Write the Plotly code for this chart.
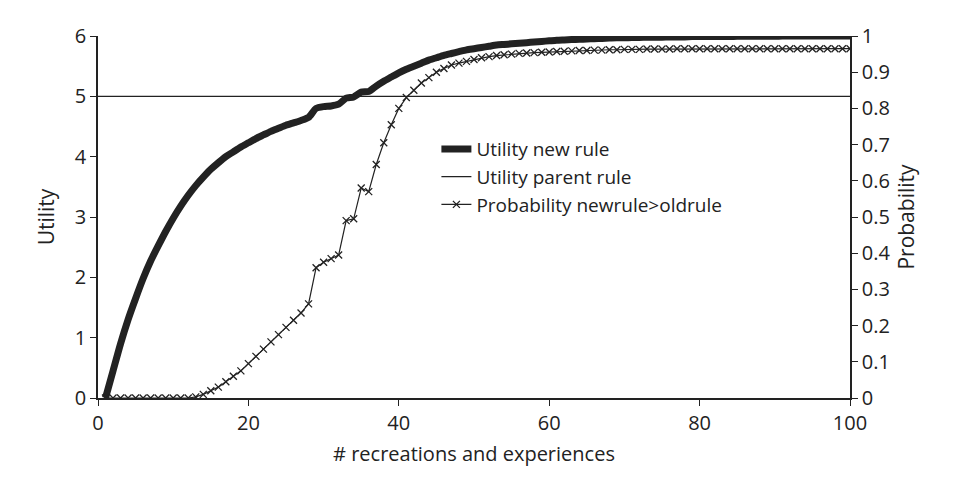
import plotly.graph_objects as go

# Data
x = list(range(1, 101))
utility_new = [0, 0.45, 0.9, 1.3, 1.65, 1.98, 2.27, 2.52, 2.76, 2.98,
               3.18, 3.36, 3.52, 3.66, 3.79, 3.9, 4.0, 4.08, 4.16, 4.23,
               4.3, 4.36, 4.42, 4.47, 4.52, 4.56, 4.6, 4.65, 4.8, 4.83,
               4.84, 4.87, 4.97, 4.99, 5.07, 5.08, 5.17, 5.25, 5.32, 5.39,
               5.45, 5.5, 5.55, 5.6, 5.64, 5.68, 5.71, 5.74, 5.77, 5.79,
               5.81, 5.83, 5.85, 5.86, 5.87, 5.88, 5.89, 5.9, 5.91, 5.92,
               5.93, 5.935, 5.94, 5.945, 5.95, 5.955, 5.96, 5.965, 5.97, 5.97,
               5.975, 5.975, 5.98, 5.98, 5.98, 5.985, 5.985, 5.985, 5.99, 5.99,
               5.99, 5.99, 5.99, 5.99, 5.995, 5.995, 5.995, 5.995, 5.995, 5.995,
               6, 6, 6, 6, 6, 6, 6, 6, 6, 6]
utility_parent = [5] * 100
prob = [0, 0, 0, 0, 0, 0, 0, 0, 0, 0,
        0, 0, 0.003, 0.01, 0.02, 0.03, 0.045, 0.06, 0.075, 0.095,
        0.115, 0.135, 0.155, 0.175, 0.195, 0.215, 0.235, 0.26, 0.36, 0.375,
        0.385, 0.395, 0.49, 0.495, 0.58, 0.57, 0.645, 0.705, 0.755, 0.8,
        0.83, 0.85, 0.87, 0.885, 0.9, 0.91, 0.92, 0.925, 0.93, 0.935,
        0.94, 0.943, 0.946, 0.948, 0.95, 0.952, 0.953, 0.954, 0.955, 0.956,
        0.957, 0.958, 0.959, 0.96, 0.96, 0.961, 0.961, 0.962, 0.962, 0.963,
        0.963, 0.963, 0.964, 0.964, 0.964, 0.964, 0.965, 0.965, 0.965, 0.965,
        0.965, 0.965, 0.965, 0.965, 0.965, 0.965, 0.965, 0.965, 0.965, 0.965,
        0.965, 0.965, 0.965, 0.965, 0.965, 0.965, 0.965, 0.965, 0.965, 0.965]

fig = go.Figure()
fig.add_trace(go.Scatter(x=x, y=utility_new, name="Utility new rule", mode="lines",
                         line={"color": "#222", "width": 7, "shape": "spline", "smoothing": 0.6}))
fig.add_trace(go.Scatter(x=[0] + x, y=[5] + utility_parent, name="Utility parent rule", mode="lines",
                         line={"color": "#222", "width": 1.2}))
fig.add_trace(go.Scatter(x=x, y=prob, name="Probability newrule>oldrule", mode="lines+markers",
                         line={"color": "#222", "width": 1.2},
                         marker={"symbol": "x-thin", "size": 7, "line": {"color": "#222", "width": 1.3}},
                         yaxis="y2"))

axis_common = dict(showgrid=False, zeroline=False, showline=True, linecolor="#222", linewidth=1.5,
                   ticks="outside", ticklen=6, tickcolor="#222", tickfont={"size": 20, "color": "#222"})

fig.update_layout(
    width=974, height=501,
    margin={"l": 90, "r": 132, "t": 28, "b": 111},
    plot_bgcolor="white", paper_bgcolor="white",
    font={"family": "Open Sans, Liberation Sans, sans-serif", "color": "#222"},
    xaxis=dict(axis_common, range=[0, 100], dtick=20,
               title={"text": "# recreations and experiences", "font": {"size": 20}, "standoff": 12}),
    yaxis=dict(axis_common, range=[0, 6], dtick=1,
               title={"text": "Utility", "font": {"size": 21}, "standoff": 14}),
    yaxis2=dict(axis_common, range=[0, 1], dtick=0.1, overlaying="y", side="right",
                title={"text": "Probability", "font": {"size": 21}, "standoff": 10}),
    legend={"x": 0.45, "y": 0.74, "xanchor": "left", "yanchor": "top", "font": {"size": 19},
            "bgcolor": "rgba(0,0,0,0)", "tracegroupgap": 8},
)

fig.write_html("out.html")
